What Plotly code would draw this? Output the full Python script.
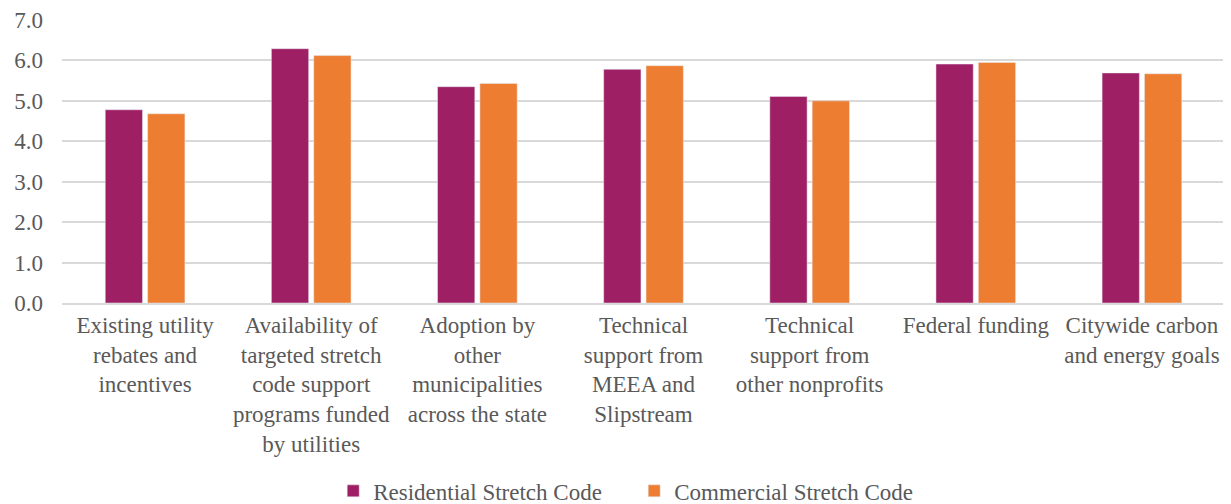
import plotly.graph_objects as go

categories = [
    "Existing utility<br>rebates and<br>incentives",
    "Availability of<br>targeted stretch<br>code support<br>programs funded<br>by utilities",
    "Adoption by<br>other<br>municipalities<br>across the state",
    "Technical<br>support from<br>MEEA and<br>Slipstream",
    "Technical<br>support from<br>other nonprofits",
    "Federal funding",
    "Citywide carbon<br>and energy goals",
]
residential = [4.78, 6.29, 5.35, 5.78, 5.11, 5.91, 5.69]
commercial = [4.68, 6.12, 5.43, 5.87, 5.00, 5.95, 5.67]

font = dict(family="Liberation Serif, Times New Roman, serif", size=23, color="#595959")

fig = go.Figure()
fig.add_trace(go.Bar(x=categories, y=residential, name="Residential Stretch Code",
                     marker=dict(color="#9E1F63")))
fig.add_trace(go.Bar(x=categories, y=commercial, name="Commercial Stretch Code",
                     marker=dict(color="#ED7D31")))

# page body has an 8px margin, so the figure is sized/offset to compensate
fig.update_layout(
    width=1223, height=496,
    margin=dict(l=54, r=6, t=12, b=201, autoexpand=False),
    paper_bgcolor="white", plot_bgcolor="white",
    font=font,
    barmode="group", bargap=0.49, bargroupgap=0.12,
    showlegend=True,
    legend=dict(orientation="h", x=0.492, xanchor="center",
                y=-0.588, yanchor="top", font=font, itemwidth=30,
                entrywidth=256, entrywidthmode="pixels",
                traceorder="normal"),
)
fig.update_yaxes(range=[0, 7], dtick=1, tickformat=".1f", showgrid=True,
                 gridcolor="#D9D9D9", gridwidth=2, zeroline=False, showline=False,
                 ticks="", ticklen=0, tickfont=font, automargin=False,
                 ticklabelstandoff=18)
fig.update_xaxes(showline=True, linecolor="#D9D9D9", linewidth=2, ticks="",
                 tickfont=font, tickangle=0, automargin=False)

fig.write_html("out.html")
